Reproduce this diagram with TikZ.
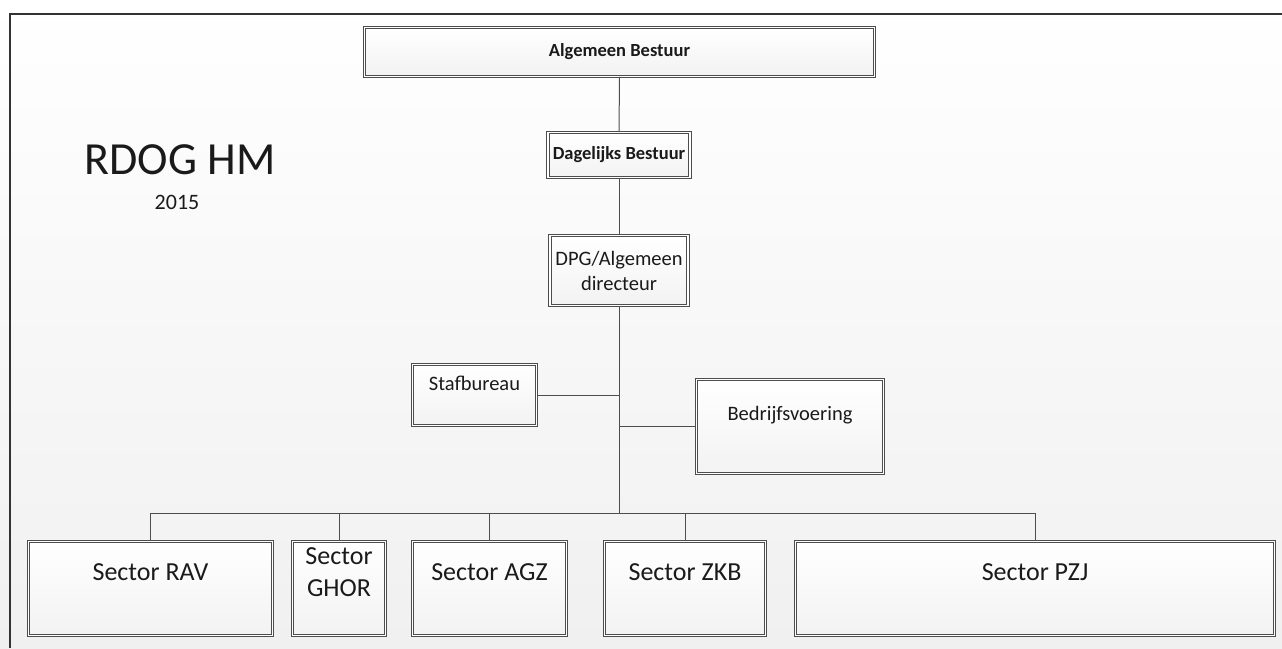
\documentclass[tikz,border=0pt]{standalone}
\usepackage{fontspec}
\setmainfont{Carlito}
\usetikzlibrary{shadows}
\definecolor{txt}{HTML}{1A1A1A}
\definecolor{edge}{HTML}{4D4D4D}
\definecolor{bg}{HTML}{F0F0F0}
\begin{document}
\begin{tikzpicture}[x=1pt,y=-1pt,
  box/.style={draw=edge, line width=0.9pt, double=white, double distance=1.4pt,
    top color=white, bottom color=black!5, inner sep=0pt,
    drop shadow={opacity=0.18, shadow xshift=1pt, shadow yshift=-1pt}},
  conn/.style={draw=edge, line width=1pt},
  btxt/.style={text=txt, font=\fontsize{18.5}{22}\selectfont\bfseries, inner sep=0pt},
  rtxt/.style={text=txt, font=\fontsize{20.5}{25}\selectfont, inner sep=0pt, align=center},
  stxt/.style={text=txt, font=\fontsize{26}{32}\selectfont, inner sep=0pt, align=center}]
\path[top color=white, bottom color=bg] (0,0) rectangle (1282,648);
\useasboundingbox (0,0) rectangle (1282,648);
% frame
\draw[line width=1.6pt, draw=black!80] (10,648) -- (10,14) -- (1282,14);
% title
\node[text=txt, font=\fontsize{46}{50}\selectfont, inner sep=0pt] (title) at (180,160) {RDOG HM};
\node[text=txt, font=\fontsize{22}{26}\selectfont, inner sep=0pt] (year) at (177,202) {2015};
% boxes
\node[box, minimum width=510pt, minimum height=49pt] (ab) at (619.5,52) {};
\node[box, minimum width=142pt, minimum height=45pt] (db) at (619,155) {};
\node[box, minimum width=138pt, minimum height=70pt] (dpg) at (619,270.5) {};
\node[box, minimum width=124pt, minimum height=61pt] (staf) at (474.5,395) {};
\node[box, minimum width=187pt, minimum height=94pt] (bedr) at (790,426.5) {};
\node[box, minimum width=244pt, minimum height=94pt] (rav) at (150.5,588.5) {};
\node[box, minimum width=93pt, minimum height=94pt] (ghor) at (339,588.5) {};
\node[box, minimum width=154pt, minimum height=94pt] (agz) at (489.5,588.5) {};
\node[box, minimum width=161pt, minimum height=94pt] (zkb) at (685,588.5) {};
\node[box, minimum width=479pt, minimum height=94pt] (pzj) at (1035,588.5) {};
% texts
\node[btxt] (abt) at (ab.center) {Algemeen Bestuur};
\node[btxt] (dbt) at (db.center) {Dagelijks Bestuur};
\node[rtxt] (dpgt) at (dpg.center) {DPG/Algemeen\\directeur};
\node[rtxt] (staft) at (474.5,383) {Stafbureau};
\node[rtxt] (bedrt) at (790,415) {Bedrijfsvoering};
\node[stxt] (ravt) at (150.5,572) {Sector RAV};
\node[stxt] (ghort) at (339,572) {Sector\\GHOR};
\node[stxt] (agzt) at (489.5,572) {Sector AGZ};
\node[stxt] (zkbt) at (685,572) {Sector ZKB};
\node[stxt] (pzjt) at (1035,572) {Sector PZJ};
% connectors
\coordinate (bus) at (619,513);
\draw[conn] (ab.south) -- (db.north);
\draw[conn] (db.south) -- (dpg.north);
\draw[conn] (dpg.south) -- (bus);
\draw[conn] (staf.east) -- (staf.east -| bus);
\draw[conn] (bedr.west) -- (bedr.west -| bus);
\draw[conn] (rav.north) |- (pzj.north |- bus) -- (pzj.north);
\draw[conn] (ghor.north) -- (ghor.north |- bus);
\draw[conn] (agz.north) -- (agz.north |- bus);
\draw[conn] (zkb.north) -- (zkb.north |- bus);
\end{tikzpicture}
\end{document}
